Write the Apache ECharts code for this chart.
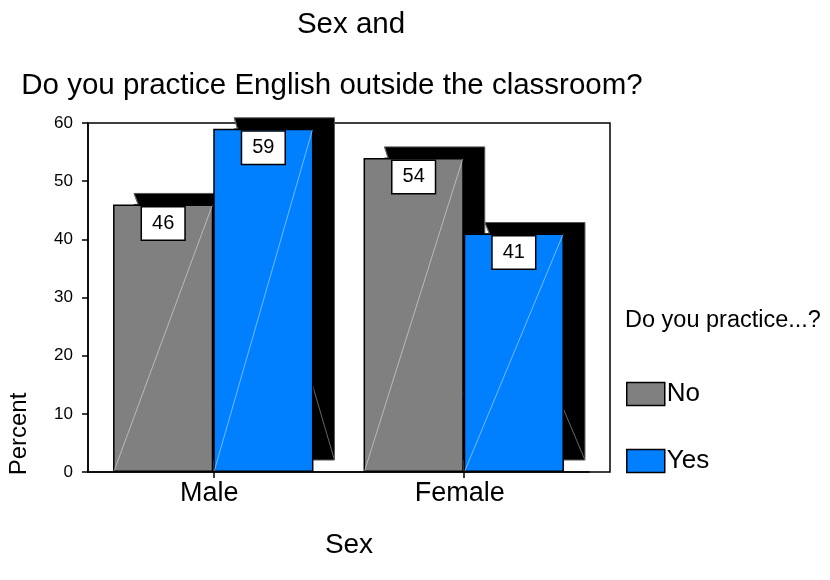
<!DOCTYPE html>
<html>
<head>
<meta charset="utf-8">
<script src="https://cdn.jsdelivr.net/npm/echarts@6/dist/echarts.min.js"></script>
<style>
html,body{margin:0;padding:0;background:#fff;}
#chart{width:830px;height:580px;}
</style>
</head>
<body>
<div id="chart"></div>
<script>
// ---- data ----
const categories = ['Male', 'Female'];
const seriesNames = ['No', 'Yes'];
const noValues = [46, 54];
const yesValues = [59, 41];
const yMin = 0, yMax = 60, yInterval = 10;
const titleLine1 = 'Sex and';
const titleLine2 = 'Do you practice English outside the classroom?';
const legendTitle = 'Do you practice...?';
const xAxisTitle = 'Sex';
const yAxisTitle = 'Percent';

const FONT = "'Liberation Sans', Arial, sans-serif";
const colors = ['#808080', '#0080ff'];

const shapeData = [];
categories.forEach((c, i) => {
  shapeData.push([i, 0, noValues[i]]);
  shapeData.push([i, 1, yesValues[i]]);
});

function barGeom(api) {
  const cat = api.value(0), s = api.value(1), v = api.value(2);
  const top = api.coord([cat, v]);
  const base = api.coord([cat, 0]);
  const band = api.size([1, 0])[0];
  const w = band * 0.4;
  const x0 = top[0] - w + s * w;
  return { x0, w, top: top[1], base: base[1] };
}

function renderShadow(params, api) {
  const g = barGeom(api);
  const dx = 21, dy = 11;
  const sx = g.x0 + dx, st = g.top - dy, sb = g.base - 12;
  const slope = (sb - st) / g.w;
  const cutX = sx + (g.top - st) / slope;
  return {
    type: 'group',
    children: [
      {
        type: 'polygon',
        shape: { points: [[sx, st], [sx + g.w, st], [sx + g.w, sb], [sx, sb], [sx, g.top], [cutX, g.top]] },
        style: { fill: '#000', stroke: '#555', lineWidth: 1 }
      },
      {
        type: 'line',
        shape: { x1: sx, y1: st, x2: sx + g.w, y2: sb },
        style: { stroke: '#666', lineWidth: 1 }
      }
    ]
  };
}

function renderDiag(params, api) {
  const g = barGeom(api);
  return {
    type: 'line',
    shape: { x1: g.x0 + 1, y1: g.base - 1, x2: g.x0 + g.w - 1, y2: g.top + 1 },
    style: { stroke: 'rgba(255,255,255,0.45)', lineWidth: 1 }
  };
}

const chart = echarts.init(document.getElementById('chart'), null, { renderer: 'canvas' });

const labelCfg = {
  show: true,
  position: 'insideTop',
  distance: 3,
  color: '#000',
  fontSize: 20,
  fontFamily: FONT,
  backgroundColor: '#fff',
  borderColor: '#000',
  borderWidth: 1.5,
  padding: [6, 10, 6, 10]
};

chart.setOption({
  animation: false,
  backgroundColor: '#fff',
  textStyle: { fontFamily: FONT },
  grid: [
    { left: 88, top: 123, width: 501, height: 349, show: false, containLabel: false },
    { left: 88, top: 123, width: 522, height: 349, show: true, borderColor: '#000', borderWidth: 1.5, backgroundColor: 'transparent', containLabel: false }
  ],
  xAxis: [
    {
      type: 'category',
      gridIndex: 0,
      data: categories,
      axisLine: { show: true, lineStyle: { color: '#000', width: 1.5 } },
      axisTick: { show: true, alignWithLabel: true, length: 6, lineStyle: { color: '#000', width: 1.5 } },
      axisLabel: { color: '#000', fontSize: 27, fontFamily: FONT, margin: 8, padding: [0, 8, 0, 0] },
      splitLine: { show: false }
    },
    { type: 'category', gridIndex: 1, data: categories, show: false }
  ],
  yAxis: [
    {
      type: 'value',
      gridIndex: 0,
      min: yMin, max: yMax, interval: yInterval,
      axisLine: { show: true, lineStyle: { color: '#000', width: 1.5 } },
      axisTick: { show: true, length: 6, lineStyle: { color: '#000', width: 1.5 } },
      axisLabel: { color: '#000', fontSize: 17, fontFamily: FONT, margin: 15 },
      splitLine: { show: false }
    },
    { type: 'value', gridIndex: 1, min: yMin, max: yMax, show: false }
  ],
  legend: {
    data: seriesNames,
    orient: 'vertical',
    left: 626,
    top: 381,
    padding: 0,
    itemWidth: 38,
    itemHeight: 23,
    itemGap: 41,
    icon: 'rect',
    itemStyle: { borderColor: '#000', borderWidth: 1.5 },
    textStyle: { color: '#000', fontSize: 26, fontFamily: FONT, padding: [0, 0, 0, -3] }
  },
  graphic: [
    { type: 'text', x: 351, y: 25, style: { text: titleLine1, font: '29.5px ' + FONT, fill: '#000', align: 'center', verticalAlign: 'middle' } },
    { type: 'text', x: 332, y: 86, style: { text: titleLine2, font: '29.5px ' + FONT, fill: '#000', align: 'center', verticalAlign: 'middle' } },
    { type: 'text', x: 625, y: 321, style: { text: legendTitle, font: '23.5px ' + FONT, fill: '#000', align: 'left', verticalAlign: 'middle' } },
    { type: 'text', x: 349, y: 545, style: { text: xAxisTitle, font: '28px ' + FONT, fill: '#000', align: 'center', verticalAlign: 'middle' } },
    { type: 'text', x: 19, y: 434, rotation: Math.PI / 2, style: { text: yAxisTitle, font: '24px ' + FONT, fill: '#000', align: 'center', verticalAlign: 'middle' } }
  ],
  series: [
    {
      name: 'shadow',
      type: 'custom',
      xAxisIndex: 0, yAxisIndex: 0,
      z: 1,
      clip: false,
      silent: true,
      renderItem: renderShadow,
      encode: { x: 0, y: 2 },
      data: shapeData
    },
    {
      name: seriesNames[0],
      type: 'bar',
      xAxisIndex: 0, yAxisIndex: 0,
      z: 2,
      barGap: '0%',
      barCategoryGap: '20%',
      data: noValues,
      itemStyle: { color: colors[0], borderColor: '#000', borderWidth: 1.5 },
      label: labelCfg
    },
    {
      name: seriesNames[1],
      type: 'bar',
      xAxisIndex: 0, yAxisIndex: 0,
      z: 2,
      barGap: '0%',
      barCategoryGap: '20%',
      data: yesValues,
      itemStyle: { color: colors[1], borderColor: '#000', borderWidth: 1.5 },
      label: labelCfg
    },
    {
      name: 'diag',
      type: 'custom',
      xAxisIndex: 0, yAxisIndex: 0,
      z: 3,
      silent: true,
      renderItem: renderDiag,
      encode: { x: 0, y: 2 },
      data: shapeData
    }
  ]
});
</script>
</body>
</html>
